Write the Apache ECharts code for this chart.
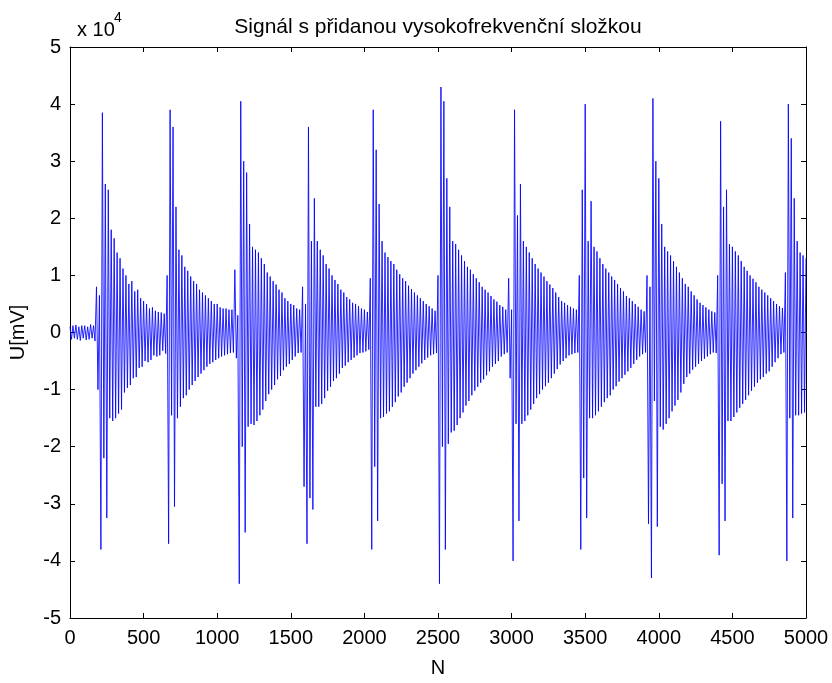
<!DOCTYPE html>
<html>
<head>
<meta charset="utf-8">
<script src="https://cdn.jsdelivr.net/npm/echarts@6/dist/echarts.min.js"></script>
<style>
  html, body { margin: 0; padding: 0; background: #fff; }
  #chart { width: 832px; height: 683px; }
</style>
</head>
<body>
<div id="chart"></div>
<script>
// Sample spacing of the stored signal (samples between stored extrema)
const SAMPLE_STEP = 10;

// Voltage in units of 1e4 mV, one value every SAMPLE_STEP samples (N = 0 … 5000)
const voltage = [
  0.1, -0.12, 0.12, -0.1, 0.13, -0.12, 0.1, -0.14, 0.12, -0.1,
  0.12, -0.13, 0.1, -0.12, 0.14, -0.1, 0.12, -0.15, 0.8, -1.0,
  0.65, -3.8, 3.85, -2.2, 2.6, -3.25, 2.5, -1.5, 1.8, -1.55,
  1.65, -1.5, 1.4, -1.42, 1.3, -1.35, 1.12, -1.05, 1.0, -0.97,
  0.85, -0.92, 0.9, -0.8, 0.72, -0.78, 0.75, -0.62, 0.6, -0.6,
  0.55, -0.5, 0.5, -0.52, 0.42, -0.48, 0.44, -0.4, 0.38, -0.42,
  0.36, -0.4, 0.35, -0.32, 0.33, -0.37, 1.0, -3.7, 3.9, -1.45,
  3.6, -3.05, 2.2, -1.5, 1.45, -1.3, 1.35, -1.15, 1.15, -1.1,
  1.08, -1.0, 0.98, -0.92, 0.9, -0.85, 0.85, -0.78, 0.75, -0.72,
  0.7, -0.66, 0.65, -0.6, 0.6, -0.55, 0.55, -0.52, 0.5, -0.48,
  0.5, -0.45, 0.44, -0.42, 0.42, -0.4, 0.42, -0.38, 0.4, -0.36,
  0.4, -0.35, 1.1, -0.45, 0.3, -4.4, 4.05, -2.0, 3.0, -3.5,
  2.8, -1.65, 1.9, -1.6, 1.5, -1.62, 1.45, -1.55, 1.4, -1.45,
  1.3, -1.35, 1.2, -1.2, 1.05, -1.08, 0.98, -1.0, 0.9, -0.92,
  0.84, -0.82, 0.75, -0.76, 0.7, -0.66, 0.6, -0.6, 0.55, -0.55,
  0.5, -0.48, 0.48, -0.42, 0.42, -0.36, 0.4, -0.35, 0.8, -2.7,
  0.5, -3.7, 3.6, -2.9, 1.6, -3.1, 2.35, -1.3, 1.6, -1.3,
  1.45, -1.25, 1.35, -1.15, 1.2, -1.02, 1.12, -0.95, 1.0, -0.85,
  0.92, -0.8, 0.85, -0.72, 0.75, -0.62, 0.7, -0.58, 0.62, -0.52,
  0.58, -0.48, 0.52, -0.44, 0.5, -0.4, 0.46, -0.36, 0.42, -0.35,
  0.4, -0.33, 0.36, -0.3, 0.95, -3.8, 3.9, -2.35, 3.2, -3.3,
  2.25, -1.5, 1.6, -1.48, 1.4, -1.42, 1.32, -1.38, 1.25, -1.3,
  1.2, -1.22, 1.1, -1.12, 1.02, -1.05, 0.95, -0.95, 0.9, -0.88,
  0.82, -0.8, 0.76, -0.72, 0.7, -0.66, 0.65, -0.6, 0.6, -0.54,
  0.55, -0.48, 0.5, -0.44, 0.46, -0.4, 0.42, -0.38, 0.38, -0.36,
  1.0, -4.4, 4.3, -2.0, 4.05, -3.8, 2.7, -1.95, 2.2, -1.75,
  1.6, -1.72, 1.55, -1.62, 1.45, -1.5, 1.35, -1.4, 1.25, -1.28,
  1.15, -1.2, 1.1, -1.1, 1.02, -1.02, 0.95, -0.95, 0.88, -0.88,
  0.8, -0.82, 0.75, -0.75, 0.7, -0.68, 0.64, -0.6, 0.58, -0.55,
  0.54, -0.5, 0.48, -0.42, 0.45, -0.38, 0.4, -0.35, 0.95, -0.8,
  0.4, -4.0, 3.9, -1.6, 2.05, -3.3, 2.6, -1.6, 1.6, -1.55,
  1.5, -1.45, 1.4, -1.35, 1.3, -1.25, 1.2, -1.15, 1.12, -1.08,
  1.05, -1.0, 0.98, -0.94, 0.9, -0.88, 0.84, -0.8, 0.78, -0.72,
  0.7, -0.64, 0.62, -0.56, 0.55, -0.5, 0.52, -0.45, 0.48, -0.4,
  0.45, -0.38, 0.42, -0.36, 0.4, -0.35, 1.0, -3.8, 2.5, -2.55,
  4.0, -3.25, 1.6, -1.5, 2.3, -1.5, 1.5, -1.45, 1.42, -1.38,
  1.3, -1.3, 1.2, -1.22, 1.12, -1.15, 1.05, -1.1, 0.98, -1.0,
  0.92, -0.94, 0.85, -0.86, 0.78, -0.8, 0.72, -0.74, 0.64, -0.68,
  0.6, -0.62, 0.55, -0.55, 0.5, -0.48, 0.45, -0.42, 0.4, -0.38,
  0.37, -0.35, 1.0, -3.35, 0.8, -4.3, 4.1, -1.2, 3.0, -3.4,
  2.7, -1.65, 1.9, -1.7, 1.5, -1.6, 1.42, -1.5, 1.35, -1.38,
  1.25, -1.28, 1.15, -1.18, 1.05, -1.05, 0.95, -0.9, 0.85, -0.78,
  0.8, -0.72, 0.72, -0.65, 0.65, -0.6, 0.58, -0.55, 0.52, -0.5,
  0.48, -0.46, 0.44, -0.42, 0.4, -0.38, 0.37, -0.35, 0.35, -0.36,
  1.0, -3.9, 3.7, -2.65, 2.2, -3.3, 2.5, -1.55, 1.55, -1.55,
  1.5, -1.48, 1.42, -1.4, 1.35, -1.32, 1.25, -1.25, 1.15, -1.18,
  1.08, -1.1, 1.0, -1.02, 0.94, -0.95, 0.88, -0.88, 0.8, -0.82,
  0.75, -0.78, 0.7, -0.72, 0.65, -0.68, 0.6, -0.6, 0.55, -0.52,
  0.5, -0.45, 0.46, -0.38, 0.43, -0.35, 1.05, -4.0, 4.0, -1.5,
  3.4, -3.25, 2.35, -1.45, 1.6, -1.45, 1.4, -1.42, 1.35, -1.4,
  1.3
];

// Axis ticks
const xTicks = [0, 500, 1000, 1500, 2000, 2500, 3000, 3500, 4000, 4500, 5000];
const yTicks = [-5, -4, -3, -2, -1, 0, 1, 2, 3, 4, 5];

const titleText = 'Signál s přidanou vysokofrekvenční složkou';
const xLabel = 'N';
const yLabel = 'U[mV]';

const FONT = '"Liberation Sans", Arial, Helvetica, sans-serif';
const INK = '#000';

const seriesData = voltage.map((v, i) => [i * SAMPLE_STEP, v]);

const grid = { left: 70, right: 26, top: 47, bottom: 58 };
const plotW = 832 - grid.left - grid.right;

const axisBase = {
  axisLine: { show: true, onZero: false, lineStyle: { color: INK, width: 1 } },
  axisTick: { show: true, inside: true, length: 5, lineStyle: { color: INK, width: 1 } },
  splitLine: { show: false }
};

const plain = v => String(v);

const chart = echarts.init(document.getElementById('chart'), null, { renderer: 'canvas' });
chart.setOption({
  animation: false,
  backgroundColor: '#fff',
  grid: grid,
  xAxis: [
    Object.assign({}, axisBase, {
      type: 'value', position: 'bottom',
      min: xTicks[0], max: xTicks[xTicks.length - 1], interval: 500,
      axisLabel: { fontFamily: FONT, fontSize: 20, color: INK, margin: 10, formatter: plain },
      name: xLabel, nameLocation: 'middle', nameGap: 40,
      nameTextStyle: { fontFamily: FONT, fontSize: 20, color: INK }
    }),
    Object.assign({}, axisBase, {
      type: 'value', position: 'top',
      min: xTicks[0], max: xTicks[xTicks.length - 1], interval: 500,
      axisLabel: { show: false }
    })
  ],
  yAxis: [
    Object.assign({}, axisBase, {
      type: 'value', position: 'left',
      min: yTicks[0], max: yTicks[yTicks.length - 1], interval: 1,
      axisLabel: { fontFamily: FONT, fontSize: 20, color: INK, margin: 9, formatter: plain },
      name: yLabel, nameLocation: 'middle', nameGap: 42, nameRotate: 90,
      nameTextStyle: { fontFamily: FONT, fontSize: 20, color: INK }
    }),
    Object.assign({}, axisBase, {
      type: 'value', position: 'right',
      min: yTicks[0], max: yTicks[yTicks.length - 1], interval: 1,
      axisLabel: { show: false }
    })
  ],
  graphic: [
    {
      type: 'text', x: grid.left + plotW / 2, y: 27,
      style: { text: titleText, font: '21px ' + FONT, fill: INK, textAlign: 'center', textVerticalAlign: 'middle' }
    },
    {
      type: 'text', x: 77, y: 30,
      style: { text: 'x 10', font: '20px ' + FONT, fill: INK, textVerticalAlign: 'middle' }
    },
    {
      type: 'text', x: 114, y: 18,
      style: { text: '4', font: '14px ' + FONT, fill: INK, textVerticalAlign: 'middle' }
    }
  ],
  series: [{
    type: 'line',
    xAxisIndex: 0, yAxisIndex: 0,
    data: seriesData,
    showSymbol: false,
    symbol: 'none',
    sampling: null,
    lineStyle: { color: '#0000ff', width: 0.85 },
    silent: true
  }]
});
</script>
</body>
</html>
